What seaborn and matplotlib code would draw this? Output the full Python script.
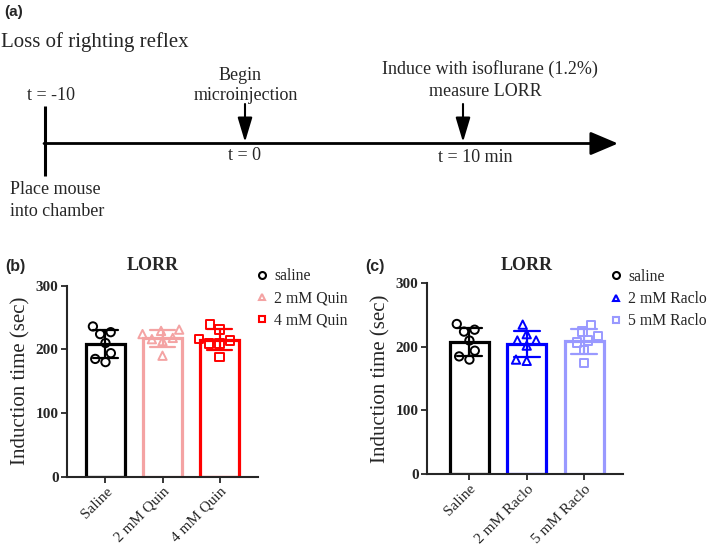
import numpy as np
import pandas as pd
import seaborn as sns
import matplotlib.pyplot as plt
from matplotlib.lines import Line2D

# data (induction time, sec)
saline = [236, 227, 224, 210, 194, 185, 180]
quin_2mm = [229, 231, 224, 216, 213, 218, 190]
quin_4mm = [239, 231, 216, 214, 209, 209, 188]
raclo_2mm = [235, 220, 210, 210, 202, 180, 178]
raclo_5mm = [234, 224, 217, 210, 207, 195, 175]

quin_groups = ['Saline', '2 mM Quin', '4 mM Quin']
quin_legend = ['saline', '2 mM Quin', '4 mM Quin']
quin_colors = ['#000000', '#f4a3a3', '#ff0000']
quin_markers = ['o', '^', 's']

raclo_groups = ['Saline', '2 mM Raclo', '5 mM Raclo']
raclo_legend = ['saline', '2 mM Raclo', '5 mM Raclo']
raclo_colors = ['#000000', '#0000ff', '#9999ff']
raclo_markers = ['o', '^', 's']

SERIF = ['Liberation Serif', 'DejaVu Serif']
SANS = ['Liberation Sans', 'DejaVu Sans']

sns.set_style('ticks')
plt.rcParams['font.family'] = SERIF

W, H = 709, 547
fig = plt.figure(figsize=(W / 100, H / 100), dpi=100)


def px(x0, y0, x1, y1):
    return [x0 / W, 1 - y1 / H, (x1 - x0) / W, (y1 - y0) / H]


# ---- panel (a): timeline diagram (pixel coordinates)
ax0 = fig.add_axes([0, 0, 1, 1])
ax0.set_xlim(0, W)
ax0.set_ylim(H, 0)
ax0.axis('off')

ax0.text(4, 12, '(a)', family=SANS, fontweight='bold', fontsize=11, va='center')
ax0.text(1, 42, 'Loss of righting reflex', fontsize=15, va='center')
ax0.plot([45, 45], [106, 176], color='black', lw=2.2, solid_capstyle='butt')
ax0.annotate('', xy=(618, 143.5), xytext=(44, 143.5),
             arrowprops=dict(arrowstyle='-|>,head_length=1.7,head_width=0.72',
                             color='black', lw=2.0, mutation_scale=10,
                             shrinkA=0, shrinkB=0))
for xa in (245, 463):
    ax0.annotate('', xy=(xa, 142), xytext=(xa, 104),
                 arrowprops=dict(arrowstyle='-|>,head_length=1.5,head_width=0.45',
                                 color='black', lw=1.5, mutation_scale=10,
                                 shrinkA=0, shrinkB=0))
fs = 13
ax0.text(51, 95, 't = -10', fontsize=fs, ha='center', va='center')
ax0.text(240, 75, 'Begin', fontsize=fs, ha='center', va='center')
ax0.text(246, 96, 'microinjection', fontsize=fs, ha='center', va='center')
ax0.text(490, 69, 'Induce with isoflurane (1.2%)', fontsize=fs, ha='center', va='center')
ax0.text(485, 92, 'measure LORR', fontsize=fs, ha='center', va='center')
ax0.text(245, 156, 't = 0', fontsize=fs, ha='center', va='center')
ax0.text(475, 158, 't = 10 min', fontsize=fs, ha='center', va='center')
ax0.text(10, 190, 'Place mouse', fontsize=fs, ha='left', va='center')
ax0.text(10, 212, 'into chamber', fontsize=fs, ha='left', va='center')


def bar_panel(ax, groups, values, colors, markers, legend_labels, xlim, leg_anchor):
    df = pd.DataFrame({
        'group': np.repeat(groups, [len(v) for v in values]),
        'time': np.concatenate(values),
    })
    pal = dict(zip(groups, colors))
    sns.barplot(data=df, x='group', y='time', hue='group', order=groups,
                palette=pal, fill=False, errorbar='sd', capsize=0.45,
                width=0.68, linewidth=2.3, err_kws={'linewidth': 1.6},
                legend=False, ax=ax)
    for g, c, m in zip(groups, colors, markers):
        n_before = len(ax.collections)
        sns.swarmplot(data=df[df['group'] == g], x='group', y='time',
                      order=groups, color=c, marker=m, size=6, ax=ax)
        for coll in ax.collections[n_before:]:
            coll.set_facecolor('none')
            coll.set_edgecolor(c)
            coll.set_linewidth(1.4)
    ax.set_ylim(0, 300)
    ax.set_xlim(*xlim)
    ax.set_yticks([0, 100, 200, 300])
    ax.set_xlabel('')
    ax.set_ylabel('Induction time (sec)', fontsize=15, labelpad=4)
    for lab in ax.get_yticklabels():
        lab.set_fontweight('bold')
        lab.set_fontsize(11)
    ax.set_xticks(range(len(groups)))
    ax.set_xticklabels(groups, rotation=45, ha='right', rotation_mode='anchor',
                       fontsize=11)
    ax.tick_params(axis='both', direction='out', length=4, width=1.3, pad=2)
    sns.despine(ax=ax)
    for s in ('left', 'bottom'):
        ax.spines[s].set_linewidth(1.5)
    handles = [Line2D([], [], ls='none', marker=m, markersize=5,
                      markerfacecolor='none', markeredgecolor=c, markeredgewidth=1.5)
               for c, m in zip(colors, markers)]
    ax.legend(handles, legend_labels, loc='upper left',
              bbox_to_anchor=leg_anchor, frameon=False, fontsize=11.3,
              handlelength=0.8, handletextpad=0.35, labelspacing=0.4)


# ---- panel (b)
axb = fig.add_axes(px(67, 285.7, 258, 476.7))
bar_panel(axb, quin_groups, [saline, quin_2mm, quin_4mm], quin_colors,
          quin_markers, quin_legend, (-0.675, 2.675), (0.915, 1.165))
fig.text(5 / W, 1 - 266 / H, '(b)', family=SANS, fontweight='bold', fontsize=11.5, va='center')
fig.text(153 / W, 1 - 265 / H, 'LORR', fontweight='bold', fontsize=13, ha='center', va='center')

# ---- panel (c)
axc = fig.add_axes(px(427, 283.3, 623, 474))
bar_panel(axc, raclo_groups, [saline, raclo_2mm, raclo_5mm], raclo_colors,
          raclo_markers, raclo_legend, (-0.74, 2.68), (0.862, 1.15))
fig.text(365 / W, 1 - 266 / H, '(c)', family=SANS, fontweight='bold', fontsize=11.5, va='center')
fig.text(527 / W, 1 - 265 / H, 'LORR', fontweight='bold', fontsize=13, ha='center', va='center')

fig.savefig('out.png', dpi=100)
